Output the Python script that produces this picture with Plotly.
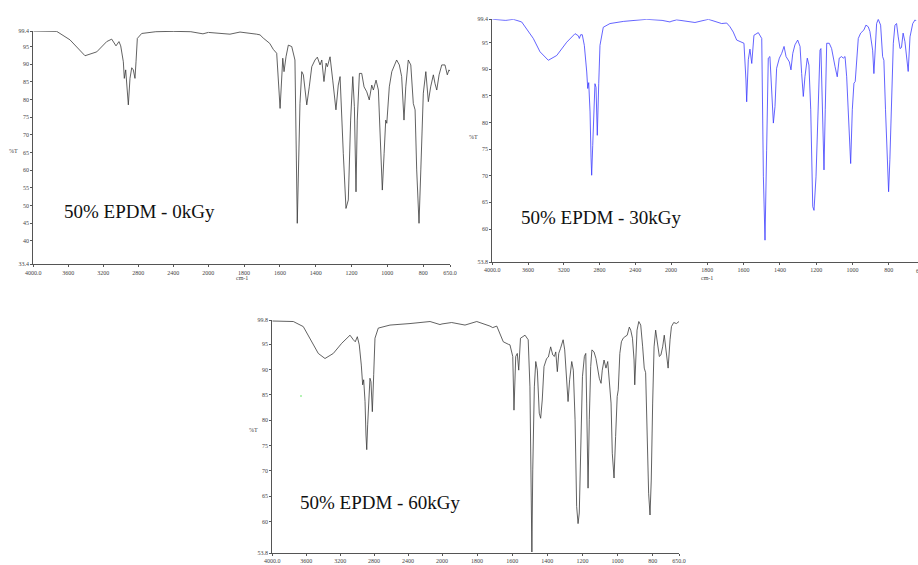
import numpy as np
import plotly.graph_objects as go

# ---------------- data (wavenumber cm-1, %T) ----------------
wn_0kgy = [4000, 3995, 3733, 3581, 3409, 3275, 3161, 3104, 3055, 3021, 3001, 2971, 2960, 2944, 2933,
           2914, 2895, 2875, 2857, 2838, 2826, 2811, 2761, 2600, 2400, 2200, 2061, 2000, 1879, 1823,
           1730, 1711, 1693, 1657, 1637, 1618, 1599, 1584, 1577, 1566, 1553, 1534, 1516, 1503, 1488,
           1478, 1469, 1450, 1436, 1422, 1404, 1391, 1376, 1366, 1354, 1342, 1335, 1320, 1305, 1287,
           1274, 1264, 1246, 1231, 1218, 1205, 1193, 1184, 1175, 1168, 1156, 1143, 1130, 1115, 1101,
           1087, 1078, 1063, 1050, 1037, 1028, 1018, 1009, 1003, 989, 975, 963, 948, 933, 920, 907,
           897, 883, 869, 855, 845, 836, 823, 813, 799, 785, 771, 758, 743, 734, 724, 711, 696, 678,
           665, 656, 650]
t_0kgy = [99.4, 99.4, 99.3, 96.9, 92.4, 93.5, 96.4, 97.1, 95.2, 96.4, 95.2, 90.7, 86.0, 88.4, 84.1,
          78.5, 86.0, 89.0, 88.4, 86.0, 90.7, 97.3, 98.7, 99.2, 99.3, 99.2, 98.6, 99.0, 98.5, 99.1,
          98.5, 98.3, 97.4, 95.9, 94.2, 93.1, 77.5, 91.7, 87.9, 92.1, 95.4, 95.0, 91.2, 45.0, 78.9,
          87.9, 87.0, 78.5, 83.6, 89.3, 91.2, 92.0, 89.8, 91.2, 85.1, 90.3, 89.3, 92.1, 85.5, 77.1,
          84.1, 86.5, 64.8, 49.2, 51.6, 74.2, 86.5, 78.0, 53.9, 74.2, 87.4, 87.4, 83.6, 82.2, 79.9,
          84.1, 82.7, 85.5, 82.7, 66.7, 54.4, 64.8, 74.2, 73.3, 83.6, 87.9, 89.3, 91.2, 89.8, 86.5, 74.2,
          83.6, 91.2, 89.8, 78.9, 77.1, 60.1, 45.0, 60.1, 81.8, 87.9, 79.4, 83.6, 87.0, 84.6, 82.7, 87.0,
          89.8, 89.8, 87.0, 88.4, 88.0]

wn_30kgy = [4000, 3989, 3850, 3765, 3671, 3541, 3466, 3373, 3279, 3167, 3074, 3037, 3026, 3011, 2993,
            2970, 2943, 2932, 2921, 2906, 2895, 2888, 2876, 2865, 2851, 2839, 2825, 2809, 2795, 2758,
            2683, 2534, 2272, 2100, 2011, 1969, 1868, 1794, 1721, 1693, 1675, 1657, 1638, 1610, 1598,
            1587, 1583, 1574, 1565, 1555, 1543, 1519, 1500, 1491, 1482, 1473, 1464, 1455, 1445, 1436,
            1427, 1418, 1403, 1390, 1377, 1366, 1348, 1339, 1329, 1317, 1302, 1289, 1280, 1271, 1262,
            1249, 1240, 1230, 1219, 1212, 1201, 1188, 1179, 1174, 1164, 1157, 1150, 1142, 1128, 1115,
            1096, 1084, 1073, 1060, 1051, 1041, 1032, 1019, 1010, 1001, 992, 985, 977, 968, 955, 937,
            926, 913, 904, 889, 882, 875, 867, 858, 845, 834, 827, 818, 808, 801, 794, 785, 775, 766,
            757, 748, 738, 730, 721, 711, 698, 693, 683, 668, 655, 650]
t_30kgy = [99.4, 99.4, 99.2, 99.4, 98.9, 95.8, 93.3, 91.7, 92.6, 95.1, 96.7, 96.3, 95.8, 96.5, 96.5,
           94.5, 89.5, 86.4, 87.5, 82.0, 73.5, 70.1, 75.7, 82.0, 87.3, 86.6, 77.6, 87.3, 94.5, 97.9,
           98.6, 99.0, 99.4, 99.2, 98.9, 99.3, 98.8, 99.4, 98.6, 98.7, 98.0, 97.0, 95.5, 95.1, 94.9,
           88.0, 83.9, 91.8, 93.8, 91.1, 96.4, 96.9, 95.8, 69.8, 57.9, 74.8, 92.1, 92.4, 85.5, 79.9,
           83.0, 90.2, 92.1, 93.0, 94.3, 92.4, 91.4, 89.9, 93.0, 94.6, 95.5, 94.3, 89.2, 84.9, 88.6,
           92.1, 90.8, 82.4, 64.2, 63.5, 69.8, 85.5, 93.6, 93.9, 82.4, 71.1, 82.4, 94.9, 94.9, 93.9,
           90.5, 88.6, 92.1, 92.4, 92.1, 92.4, 88.6, 79.2, 72.3, 82.4, 87.4, 87.7, 92.4, 95.8, 96.8, 97.4,
           98.3, 98.0, 97.1, 93.6, 89.2, 93.6, 98.6, 99.4, 98.3, 92.4, 91.7, 82.4, 73.0, 67.0, 73.0, 85.5,
           94.9, 98.3, 98.6, 96.1, 93.9, 94.1, 96.8, 95.2, 91.7, 89.6, 96.1, 98.6, 99.3, 99.1]

wn_60kgy = [4000, 3995, 3752, 3635, 3536, 3458, 3379, 3281, 3182, 3084, 3045, 3022, 2998, 2975, 2951,
            2935, 2923, 2907, 2896, 2887, 2876, 2860, 2849, 2837, 2821, 2805, 2790, 2751, 2613, 2377,
            2141, 2024, 1945, 1869, 1802, 1727, 1711, 1688, 1651, 1622, 1613, 1597, 1590, 1580, 1571,
            1563, 1553, 1527, 1509, 1499, 1493, 1488, 1483, 1474, 1466, 1457, 1446, 1438, 1429, 1419,
            1404, 1394, 1381, 1369, 1360, 1352, 1343, 1335, 1325, 1310, 1301, 1291, 1282, 1273, 1261,
            1252, 1242, 1233, 1225, 1218, 1208, 1200, 1189, 1181, 1176, 1168, 1161, 1153, 1146, 1134,
            1123, 1115, 1104, 1094, 1087, 1077, 1066, 1056, 1047, 1037, 1030, 1020, 1011, 1002, 996,
            987, 978, 968, 958, 945, 933, 925, 915, 906, 902, 895, 889, 879, 868, 857, 848, 840, 831,
            823, 815, 808, 800, 792, 783, 771, 762, 753, 743, 734, 726, 721, 712, 701, 693, 680, 665, 650]
t_60kgy = [99.6, 99.6, 99.5, 98.5, 95.5, 93.2, 92.2, 93.2, 95.2, 96.8, 95.9, 95.5, 96.5, 94.9, 90.9,
           87.0, 88.0, 83.7, 77.1, 74.2, 79.1, 85.0, 88.3, 87.6, 81.7, 89.0, 96.2, 98.2, 98.8, 99.1,
           99.5, 98.9, 99.3, 98.8, 99.5, 98.6, 98.3, 98.6, 95.5, 95.0, 94.9, 92.6, 82.0, 92.6, 93.2,
           89.9, 96.2, 96.8, 95.9, 86.6, 66.9, 54.0, 70.2, 86.6, 91.6, 89.9, 81.4, 80.4, 84.0, 90.6,
           92.2, 92.5, 94.5, 92.9, 92.6, 93.5, 89.6, 93.2, 94.2, 95.9, 93.9, 89.3, 83.7, 88.0, 91.6,
           89.9, 80.1, 63.0, 59.6, 61.7, 76.8, 88.6, 92.6, 93.2, 83.4, 66.6, 80.1, 90.6, 93.9, 93.5,
           92.2, 90.3, 88.3, 87.3, 89.9, 91.9, 90.3, 91.6, 88.0, 83.4, 73.5, 68.6, 76.8, 84.7, 86.0,
           93.2, 95.5, 96.2, 96.5, 96.8, 98.4, 97.8, 96.2, 91.9, 87.0, 91.9, 97.8, 99.5, 98.8, 94.5,
           90.3, 89.4, 76.8, 65.6, 61.3, 68.2, 83.4, 94.5, 97.8, 95.2, 92.6, 92.9, 94.5, 96.8, 94.5,
           92.6, 90.3, 95.9, 98.5, 99.3, 99.1, 99.5]

x_ticks_hi = [4000, 3600, 3200, 2800, 2400, 2000]
x_ticktext_hi = ["4000.0", "3600", "3200", "2800", "2400", "2000"]
x_ticks_lo = [1800, 1600, 1400, 1200, 1000, 800, 650]
x_ticktext_lo = ["1800", "1600", "1400", "1200", "1000", "800", "650.0"]

y_ticks_0 = [99.4, 95, 90, 85, 80, 75, 70, 65, 60, 55, 50, 45, 40, 33.4]
y_ticks_30 = [99.4, 95, 90, 85, 80, 75, 70, 65, 60, 53.8]
y_ticks_60 = [99.8, 95, 90, 85, 80, 75, 70, 65, 60, 53.8]

labels = ["50% EPDM - 0kGy", "50% EPDM - 30kGy", "50% EPDM - 60kGy"]

# ---------------- figure ----------------
W, H = 918, 565
fig = go.Figure()
AX = "#555555"
tickfont = dict(family="Liberation Serif", size=6, color="#444")


def px(x):
    return x / W


def py(y):
    return 1 - y / H


def add_panel(i, wn, t, color, xl, xm, xr, yt, yb, yticks, x_lo_end, lo_ticks, lo_text):
    wn = np.asarray(wn, dtype=float)
    t = np.asarray(t, dtype=float)
    k = int(np.argmax(wn <= 2000))
    xa = 2 * i - 1
    xb = 2 * i
    yn = i
    xan = "x" if xa == 1 else f"x{xa}"
    xbn = f"x{xb}"
    ynm = "y" if yn == 1 else f"y{yn}"
    line = dict(color=color, width=0.8)
    fig.add_trace(go.Scatter(x=wn[:k + 1], y=t[:k + 1], mode="lines", line=line,
                             xaxis=xan, yaxis=ynm, showlegend=False, hoverinfo="skip"))
    fig.add_trace(go.Scatter(x=wn[max(k - 1, 0):], y=t[max(k - 1, 0):], mode="lines", line=line,
                             xaxis=xbn, yaxis=ynm, showlegend=False, hoverinfo="skip"))
    common = dict(showgrid=False, zeroline=False, showline=True, linecolor=AX, linewidth=1,
                  ticks="outside", ticklen=2, tickcolor=AX, tickwidth=1, tickfont=tickfont,
                  automargin=False)
    lay = {}
    lay["xaxis" if xa == 1 else f"xaxis{xa}"] = dict(
        domain=[px(xl), px(xm)], range=[4000, 2000], anchor=ynm,
        tickmode="array", tickvals=x_ticks_hi, ticktext=x_ticktext_hi, **common)
    lay[f"xaxis{xb}"] = dict(
        domain=[px(xm), px(xr)], range=[2000, x_lo_end], anchor=ynm,
        tickmode="array", tickvals=lo_ticks, ticktext=lo_text, **common)
    lay["yaxis" if yn == 1 else f"yaxis{yn}"] = dict(
        domain=[py(yb), py(yt)], range=[yticks[-1], yticks[0]], anchor=xan,
        tickmode="array", tickvals=yticks, ticktext=[str(v) for v in yticks], **common)
    fig.update_layout(**lay)


add_panel(1, wn_0kgy, t_0kgy, "#3a3a3a", 33.3, 208.3, 450, 31, 264.3, y_ticks_0, 650,
          x_ticks_lo, x_ticktext_lo)
add_panel(2, wn_30kgy, t_30kgy, "#3c3cff", 492.3, 671, 918, 19.3, 262, y_ticks_30, 639,
          x_ticks_lo[:-1], x_ticktext_lo[:-1])
add_panel(3, wn_60kgy, t_60kgy, "#3a3a3a", 272.3, 442, 679, 320, 553, y_ticks_60, 650,
          x_ticks_lo, x_ticktext_lo)

ann = []
small = dict(family="Liberation Serif", size=6, color="#444")
for (x, y, s) in [(13, 151, "%T"), (473.5, 137, "%T"), (253.5, 430, "%T"),
                  (242, 278, "cm-1"), (706.5, 278, "cm-1"), (478, 568, "cm-1"),
                  (923, 271, "650.0")]:
    ann.append(dict(x=px(x), y=py(y), xref="paper", yref="paper", text=s, showarrow=False,
                    font=small, xanchor="center", yanchor="middle"))
big = dict(family="Liberation Serif", size=19, color="#111")
for (x, y, s) in [(62, 211, labels[0]), (519, 217, labels[1]), (298, 502, labels[2])]:
    ann.append(dict(x=px(x), y=py(y), xref="paper", yref="paper", text=s, showarrow=False,
                    font=big, xanchor="left", yanchor="middle"))

# small green speck seen in the bottom panel of the original
shapes = [dict(type="circle", xref="paper", yref="paper",
               x0=px(300.3), x1=px(301.7), y0=py(396.7), y1=py(395.3),
               line=dict(width=0), fillcolor="#33dd33")]

fig.update_layout(width=W, height=H, margin=dict(l=0, r=0, t=0, b=0, pad=0),
                  paper_bgcolor="white", plot_bgcolor="white", annotations=ann,
                  shapes=shapes, showlegend=False)

fig.write_html("out.html", config={"displayModeBar": False},
               post_script="document.body.style.margin='0';document.body.style.overflow='hidden';")
